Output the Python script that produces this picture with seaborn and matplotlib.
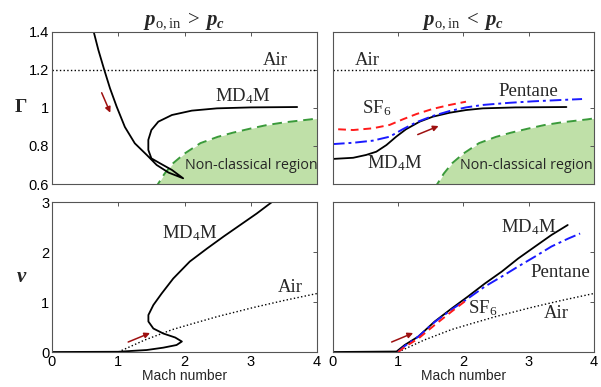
import numpy as np
import pandas as pd
import matplotlib
matplotlib.use("Agg")
import matplotlib.pyplot as plt
import seaborn as sns

# ---------------- data ----------------
# Fundamental derivative (Gamma) vs Mach number, supercritical inlet (left)
md4m_hi_M = [0.63, 0.70, 0.785, 0.875, 0.976, 1.10, 1.25, 1.43, 1.58, 1.76, 1.98,
             1.81, 1.63, 1.50, 1.454, 1.454, 1.50, 1.605, 1.81, 2.11, 2.49, 3.00, 3.70]
md4m_hi_G = [1.40, 1.305, 1.205, 1.104, 1.007, 0.90, 0.814, 0.753, 0.70, 0.66, 0.63,
             0.674, 0.709, 0.735, 0.779, 0.832, 0.884, 0.928, 0.963, 0.986, 0.998, 1.003, 1.005]

# Non-classical region boundary
ncr_M = [1.55, 1.60, 1.70, 1.83, 2.00, 2.24, 2.50, 2.73, 3.00, 3.24, 3.50, 3.90, 4.00]
ncr_G = [0.575, 0.60, 0.655, 0.71, 0.76, 0.815, 0.848, 0.87, 0.892, 0.91, 0.924, 0.94, 0.945]

air_M = [0.0, 4.0]
air_G = [1.2, 1.2]

# Subcritical inlet (right)
md4m_lo_M = [0.0, 0.31, 0.51, 0.665, 0.82, 0.97, 1.12, 1.33, 1.53, 1.79, 2.04, 2.30, 2.80, 3.58]
md4m_lo_G = [0.732, 0.738, 0.753, 0.77, 0.805, 0.849, 0.888, 0.928, 0.954, 0.975, 0.989, 0.998, 1.003, 1.005]
pent_lo_M = [0.0, 0.31, 0.61, 0.87, 1.07, 1.28, 1.53, 1.79, 2.04, 2.30, 2.70, 3.07, 3.50, 3.82]
pent_lo_G = [0.81, 0.817, 0.828, 0.849, 0.888, 0.925, 0.958, 0.984, 1.003, 1.016, 1.027, 1.035, 1.042, 1.047]
sf6_lo_M = [0.08, 0.31, 0.61, 0.87, 1.07, 1.28, 1.53, 1.79, 2.04]
sf6_lo_G = [0.888, 0.884, 0.893, 0.911, 0.94, 0.968, 0.995, 1.016, 1.033]

# Non-dimensional entropy (nu) vs Mach number
md4m_hi_nM = [0.0, 1.0, 1.18, 1.43, 1.68, 1.88, 1.96, 1.86, 1.68, 1.53, 1.455, 1.455,
              1.53, 1.655, 1.83, 2.08, 2.34, 2.59, 2.84, 3.09, 3.34]
md4m_hi_nu = [0.0, 0.005, 0.02, 0.04, 0.087, 0.14, 0.21, 0.29, 0.37, 0.47, 0.61, 0.74,
              0.94, 1.17, 1.47, 1.81, 2.07, 2.31, 2.54, 2.77, 3.02]
air_nM = [1.0, 1.4, 1.82, 2.13, 2.50, 3.04, 3.50, 4.00]
air_nu = [0.0, 0.24, 0.45, 0.57, 0.71, 0.89, 1.03, 1.17]

md4m_lo_nM = [0.0, 0.976, 1.10, 1.31, 1.56, 1.82, 2.07, 2.33, 2.59, 2.84, 3.10, 3.35, 3.60]
md4m_lo_nu = [0.0, 0.01, 0.14, 0.31, 0.61, 0.87, 1.11, 1.37, 1.61, 1.87, 2.11, 2.34, 2.54]
pent_lo_nM = [1.0, 1.10, 1.31, 1.56, 1.82, 2.07, 2.33, 2.59, 2.84, 3.10, 3.35, 3.61, 3.79]
pent_lo_nu = [0.0, 0.12, 0.31, 0.60, 0.85, 1.07, 1.31, 1.51, 1.71, 1.91, 2.11, 2.27, 2.37]
sf6_lo_nM = [1.0, 1.10, 1.31, 1.56, 1.82, 2.02]
sf6_lo_nu = [0.0, 0.10, 0.27, 0.54, 0.81, 1.01]

x_ticks = [0, 1, 2, 3, 4]
g_ticks = [0.6, 0.8, 1.0, 1.2, 1.4]
g_ticklabels = ["0.6", "0.8", "1", "1.2", "1.4"]
n_ticks = [0, 1, 2, 3]

# ---------------- style ----------------
sns.set_style("white")
plt.rcParams["font.family"] = ["Liberation Sans", "DejaVu Sans"]
plt.rcParams["mathtext.fontset"] = "custom"
plt.rcParams["mathtext.rm"] = "Liberation Serif"
plt.rcParams["mathtext.it"] = "Liberation Serif:italic"
plt.rcParams["mathtext.bf"] = "Liberation Serif:bold"
plt.rcParams["mathtext.bfit"] = "Liberation Serif:bold:italic"

SERIF = "Liberation Serif"
BLACK = "black"
BLUE = "#1a1aff"
RED = "#ff1a1a"
GREEN = "#3a9a3a"
FILL = "#bfe0a8"
ARROW = "#9e1010"
SPINE = "#555555"

fig = plt.figure(figsize=(6.01, 3.87), dpi=100)
ax_tl = fig.add_axes([0.0865, 0.5245, 0.441, 0.393])
ax_tr = fig.add_axes([0.554, 0.5245, 0.434, 0.393])
ax_bl = fig.add_axes([0.0865, 0.0904, 0.441, 0.3876])
ax_br = fig.add_axes([0.554, 0.0904, 0.434, 0.3876])


def curve(ax, xs, ys, **kw):
    df = pd.DataFrame({"x": xs, "y": ys})
    sns.lineplot(data=df, x="x", y="y", ax=ax, sort=False, estimator=None, **kw)


def arrow(ax, start, end):
    ax.annotate("", xy=end, xytext=start,
                arrowprops=dict(arrowstyle="-|>", color=ARROW, lw=1.1,
                                mutation_scale=8, shrinkA=0, shrinkB=0))


def label(ax, x, y, s, **kw):
    ax.text(x, y, s, family=SERIF, fontsize=13.5, ha="center", va="center", **kw)


def region(ax, x0):
    ax.fill_between(ncr_M, ncr_G, 0.5, color=FILL, lw=0, zorder=0)
    curve(ax, ncr_M, ncr_G, color=GREEN, lw=1.4, dashes=(5, 3), zorder=1)
    ax.text(x0, 0.695, "Non-classical region", family="Open Sans", fontsize=10.3,
            ha="left", va="center", clip_on=True)


LW = 1.3
kw_line = dict(lw=LW, solid_joinstyle="round", solid_capstyle="round")

# top-left
region(ax_tl, 2.0)
curve(ax_tl, air_M, air_G, color=BLACK, lw=1.0, linestyle=":")
curve(ax_tl, md4m_hi_M, md4m_hi_G, color=BLACK, **kw_line)
label(ax_tl, 3.37, 1.25, "Air")
label(ax_tl, 2.88, 1.06, r"MD$_4$M")
arrow(ax_tl, (0.75, 1.08), (0.88, 0.975))

# top-right
region(ax_tr, 1.95)
curve(ax_tr, air_M, air_G, color=BLACK, lw=1.0, linestyle=":")
curve(ax_tr, md4m_lo_M, md4m_lo_G, color=BLACK, **kw_line)
curve(ax_tr, pent_lo_M, pent_lo_G, color=BLUE, lw=1.4, dashes=(6, 2, 1.5, 2))
curve(ax_tr, sf6_lo_M, sf6_lo_G, color=RED, lw=1.4, dashes=(4, 2.5))
label(ax_tr, 0.52, 1.25, "Air")
label(ax_tr, 3.0, 1.085, "Pentane")
label(ax_tr, 0.67, 1.0, r"SF$_6$")
label(ax_tr, 0.95, 0.71, r"MD$_4$M")
arrow(ax_tr, (1.3, 0.86), (1.62, 0.905))

# bottom-left
curve(ax_bl, air_nM, air_nu, color=BLACK, lw=1.0, linestyle=":")
curve(ax_bl, md4m_hi_nM, md4m_hi_nu, color=BLACK, **kw_line)
label(ax_bl, 2.08, 2.38, r"MD$_4$M")
label(ax_bl, 3.6, 1.3, "Air")
arrow(ax_bl, (1.15, 0.2), (1.48, 0.38))

# bottom-right
curve(ax_br, air_nM, air_nu, color=BLACK, lw=1.0, linestyle=":")
curve(ax_br, md4m_lo_nM, md4m_lo_nu, color=BLACK, **kw_line)
curve(ax_br, pent_lo_nM, pent_lo_nu, color=BLUE, lw=1.4, dashes=(6, 2, 1.5, 2))
curve(ax_br, sf6_lo_nM, sf6_lo_nu, color=RED, lw=1.4, dashes=(4, 2.5))
label(ax_br, 3.0, 2.5, r"MD$_4$M")
label(ax_br, 3.48, 1.6, "Pentane")
label(ax_br, 2.3, 0.88, r"SF$_6$")
label(ax_br, 3.43, 0.77, "Air")
arrow(ax_br, (0.9, 0.2), (1.23, 0.38))

for ax in (ax_tl, ax_tr, ax_bl, ax_br):
    ax.set_xlim(0, 4)
    ax.set_xticks(x_ticks)
    ax.set_xlabel("")
    ax.set_ylabel("")
    ax.tick_params(direction="in", length=3, width=0.7, top=True, right=True,
                   labelsize=10.5, pad=2, colors=SPINE, labelcolor="black")
    for sp in ax.spines.values():
        sp.set_color(SPINE)
        sp.set_linewidth(0.8)
    ax.set_facecolor("white")

for ax in (ax_tl, ax_tr):
    ax.set_ylim(0.6, 1.4)
    ax.set_yticks(g_ticks)
    ax.set_xticklabels([])
for ax in (ax_bl, ax_br):
    ax.set_ylim(0, 3)
    ax.set_yticks(n_ticks)
    ax.set_xticklabels([str(t) for t in x_ticks])
    ax.set_xlabel("Mach number", fontsize=10, labelpad=0)

ax_tl.set_yticklabels(g_ticklabels)
ax_tr.set_yticklabels([])
ax_br.set_yticklabels([])

ax_tl.set_ylabel("Γ", family=SERIF, fontweight="bold", fontsize=14, rotation=0,
                 va="center", labelpad=6)
ax_bl.set_ylabel("ν", family=SERIF, fontweight="bold", style="italic", fontsize=15,
                 rotation=0, va="center", labelpad=14)

ax_tl.set_title(r"$\mathbfit{p}_{\mathrm{o,in}}\;>\;\mathbfit{p}_{\mathbfit{c}}$",
                fontsize=15, pad=5)
ax_tr.set_title(r"$\mathbfit{p}_{\mathrm{o,in}}\;<\;\mathbfit{p}_{\mathbfit{c}}$",
                fontsize=15, pad=5)

fig.savefig("out.png", dpi=100)
